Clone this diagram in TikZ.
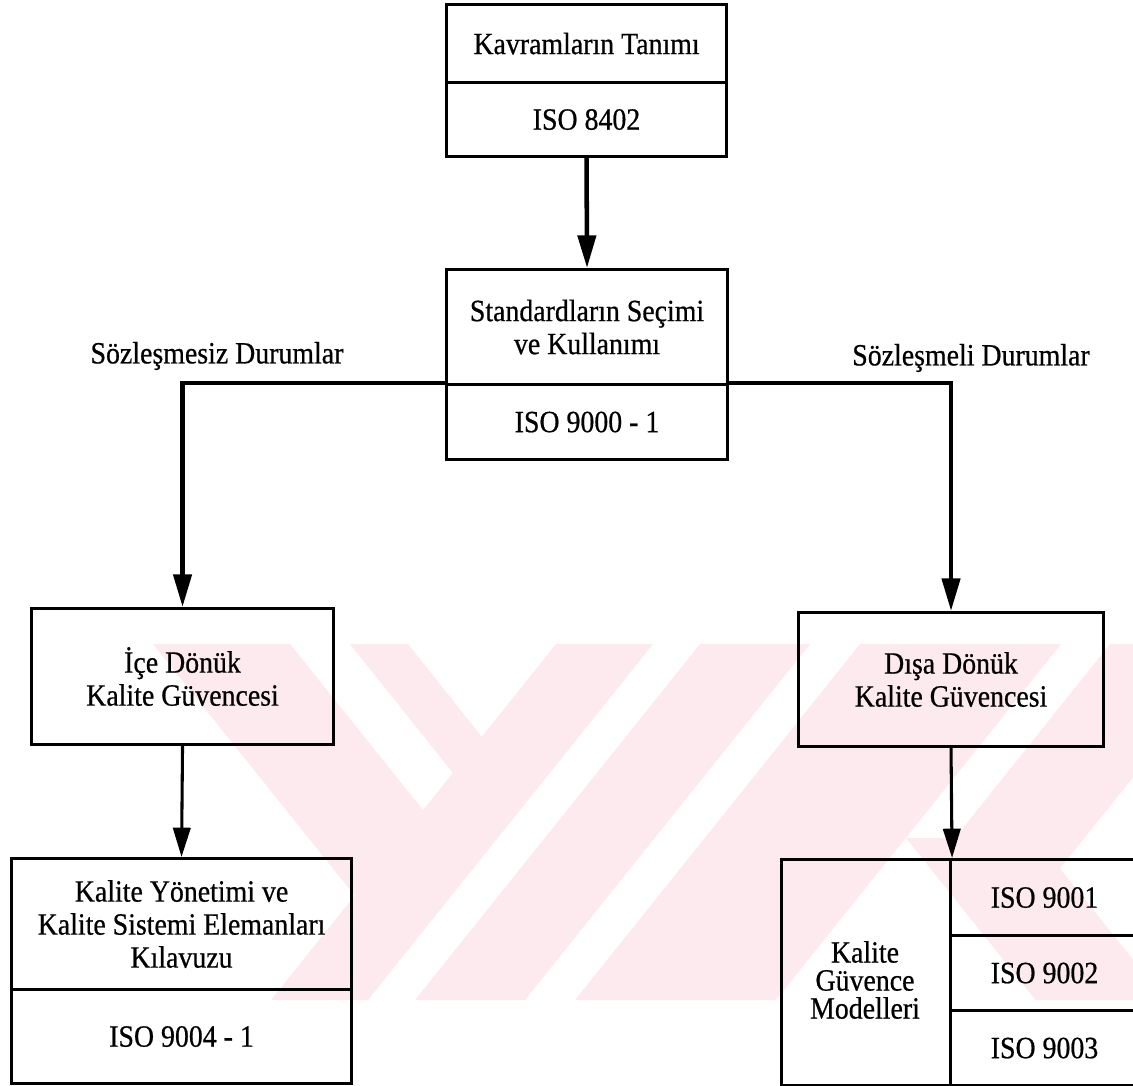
\documentclass[tikz,border=0pt]{standalone}
\usepackage{fontspec}
\setmainfont{Liberation Serif}[FakeStretch=0.9,FakeBold=0.6]
\usetikzlibrary{arrows.meta}
\definecolor{wmpink}{RGB}{253,234,238}
\begin{document}
\begin{tikzpicture}[x=0.75pt,y=-0.75pt,
  every node/.style={font=\fontsize{23.2pt}{24.75pt}\selectfont, inner sep=0pt, align=center},
  cell/.style={draw, line width=2.3pt, anchor=north west},
  thickarrow/.style={line width=3.4pt, -{Triangle[length=24.5pt,width=13.5pt]}},
  thinarrow/.style={line width=2.3pt, -{Triangle[length=22pt,width=13pt]}},
  caselabel/.style={}]
\useasboundingbox (0,0) rectangle (1133,1086);
\clip (0,0) rectangle (1133,1086);

% faint background emblem (diagonal bands)
\begin{scope}
  % left group: two slanted arms and the stem
  \fill[wmpink] (153,644) -- (290,644) -- (423,810) -- (355,896) -- cycle;
  \fill[wmpink] (350,644) -- (408,644) -- (482,737) -- (453,773) -- cycle;
  \fill[wmpink] (556,644) -- (653,644) -- (368,1000) -- (271,1000) -- cycle;
  % middle bands
  \fill[wmpink] (700,644) -- (810,644) -- (525,1000) -- (415,1000) -- cycle;
  \fill[wmpink] (860,644) -- (1061,644) -- (776,1000) -- (575,1000) -- cycle;
  % right group: upper arm and lower leg
  \fill[wmpink] (1110,644) -- (1240,644) -- (1060,868.5) -- (1165.6,1000)
                -- (1035.6,1000) -- (906,838) -- (955,838) -- cycle;
\end{scope}

% cells
\node[cell, minimum width=280*0.75pt, minimum height=78*0.75pt] (k1) at (445,3) {Kavramların Tanımı};
\node[cell, minimum width=280*0.75pt, minimum height=74*0.75pt] (k2) at (445,81) {ISO 8402};

\node[cell, minimum width=281*0.75pt, minimum height=115*0.75pt] (s1) at (445,268) {Standardların Seçimi\\ve Kullanımı};
\node[cell, minimum width=281*0.75pt, minimum height=75*0.75pt] (s2) at (445,383) {ISO 9000 - 1};

\node[cell, minimum width=302*0.75pt, minimum height=136*0.75pt] (ice) at (30,607) {İçe Dönük\\Kalite Güvencesi};
\node[cell, minimum width=305*0.75pt, minimum height=134*0.75pt] (disa) at (797,611) {Dışa Dönük\\Kalite Güvencesi};

\node[cell, minimum width=340*0.75pt, minimum height=131*0.75pt] (ky1) at (10,857) {Kalite Yönetimi ve\\Kalite Sistemi Elemanları\\Kılavuzu};
\node[cell, minimum width=340*0.75pt, minimum height=94*0.75pt] (ky2) at (10,988) {ISO 9004 - 1};

\node[cell, minimum width=169*0.75pt, minimum height=226*0.75pt] (kgm) at (780,858) {};
\node[font=\fontsize{23.2pt}{21pt}\selectfont] (kgmtext) at (865,980) {Kalite\\Güvence\\Modelleri};
\node[cell, minimum width=188*0.75pt, minimum height=76*0.75pt] (m1) at (949,858) {ISO 9001};
\node[cell, minimum width=188*0.75pt, minimum height=75*0.75pt] (m2) at (949,934) {ISO 9002};
\node[cell, minimum width=188*0.75pt, minimum height=75*0.75pt] (m3) at (949,1009) {ISO 9003};

% branch labels
\node[caselabel] (lsz) at (217,356) {Sözleşmesiz Durumlar};
\node[caselabel] (lsm) at (971,358) {Sözleşmeli Durumlar};

% connectors
\draw[thickarrow] (k2.south) -- (s1.north);
\draw[thickarrow] (s2.north west) -| (ice.north);
\draw[thickarrow] (s2.north east) -| (disa.north);
\draw[thinarrow] (ice.south) -- (ky1.north);
\draw[thinarrow] (disa.south) -- (kgm.north east);
\end{tikzpicture}
\end{document}
